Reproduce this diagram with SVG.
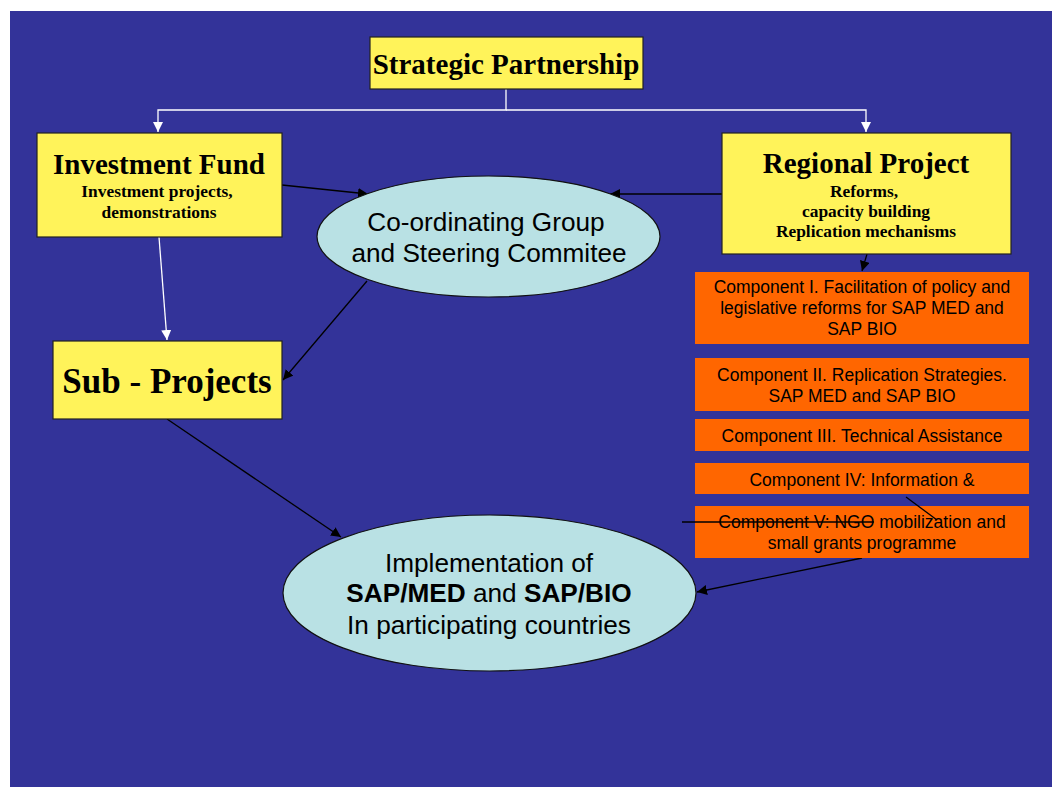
<svg xmlns="http://www.w3.org/2000/svg" width="1052" height="787" viewBox="0 0 1052 787">
<defs>
<marker id="ab" viewBox="0 0 10 10" refX="10" refY="5" markerWidth="10" markerHeight="10" markerUnits="userSpaceOnUse" orient="auto"><path d="M0,0 L10,5 L0,10 z" fill="#000"/></marker>
<marker id="aw" viewBox="0 0 10 10" refX="10" refY="5" markerWidth="10" markerHeight="10" markerUnits="userSpaceOnUse" orient="auto"><path d="M0,0 L10,5 L0,10 z" fill="#fff"/></marker>
<style>
.yb{fill:#FFF35A;stroke:#222;stroke-width:1.2}
.ob{fill:#FF6600}
.el{fill:#B9E1E4;stroke:#111;stroke-width:1.2}
.serif{font-family:"Liberation Serif","Times New Roman",serif;font-weight:bold;fill:#000;text-anchor:middle}
.sans{font-family:"Liberation Sans",Arial,sans-serif;fill:#000;text-anchor:middle}
.t1{font-size:29px}
.t2{font-size:17.4px}
.e{font-size:26.2px}
.c{font-size:17.5px}
.bl{stroke:#000;stroke-width:1.3;fill:none}
.wl{stroke:#fff;stroke-width:1.3;fill:none}
</style>
</defs>
<rect x="0" y="0" width="1052" height="787" fill="#fff"/>
<rect x="10" y="11" width="1042" height="776" fill="#333399"/>

<g id="connectors">
<polyline class="wl" points="506,89 506,110 158,110 158,132" marker-end="url(#aw)"/>
<polyline class="wl" points="506,110 866,110 866,132" marker-end="url(#aw)"/>
<line class="wl" x1="159" y1="237" x2="167" y2="340" marker-end="url(#aw)"/>
<line class="bl" x1="282" y1="185" x2="368" y2="194" marker-end="url(#ab)"/>
<line class="bl" x1="722" y1="194" x2="610" y2="194" marker-end="url(#ab)"/>
<line class="bl" x1="367" y1="281" x2="283" y2="380" marker-end="url(#ab)"/>
<line class="bl" x1="167" y1="419" x2="341" y2="537" marker-end="url(#ab)"/>
<line class="bl" x1="867" y1="254" x2="862" y2="271" marker-end="url(#ab)"/>
<line class="bl" x1="862" y1="558" x2="697" y2="592" marker-end="url(#ab)"/>
</g>

<g id="strategic-partnership">
<rect class="yb" x="370" y="37" width="273" height="52"/>
<text class="serif t1" x="506" y="74">Strategic Partnership</text>
</g>

<g id="investment-fund">
<rect class="yb" x="37" y="133" width="245" height="104"/>
<text class="serif t1" x="159" y="174">Investment Fund</text>
<text class="serif t2" x="157" y="197">Investment projects,</text>
<text class="serif t2" x="159" y="218">demonstrations</text>
</g>

<g id="regional-project">
<rect class="yb" x="722" y="133" width="289" height="121"/>
<text class="serif t1" x="866" y="173">Regional Project</text>
<text class="serif t2" x="864" y="197">Reforms,</text>
<text class="serif t2" x="866" y="217">capacity building</text>
<text class="serif t2" x="866" y="237">Replication mechanisms</text>
</g>

<g id="coordinating-group">
<ellipse class="el" cx="488.5" cy="236.5" rx="171.5" ry="60.5"/>
<text class="sans e" x="486" y="231">Co-ordinating Group</text>
<text class="sans e" x="489" y="262">and Steering Commitee</text>
</g>

<g id="sub-projects">
<rect class="yb" x="53" y="341" width="229" height="78"/>
<text class="serif" x="167" y="393" font-size="35">Sub - Projects</text>
</g>

<g id="implementation">
<ellipse class="el" cx="489.5" cy="593" rx="206.5" ry="78"/>
<text class="sans e" x="489" y="572">Implementation of</text>
<text class="sans e" x="489" y="602"><tspan font-weight="bold">SAP/MED</tspan> and <tspan font-weight="bold">SAP/BIO</tspan></text>
<text class="sans e" x="489" y="634">In participating countries</text>
</g>

<g id="component-1">
<rect class="ob" x="695" y="272" width="334" height="72"/>
<text class="sans c" x="862" y="293">Component I. Facilitation of policy and</text>
<text class="sans c" x="862" y="314">legislative reforms for SAP MED and</text>
<text class="sans c" x="862" y="335">SAP BIO</text>
</g>

<g id="component-2">
<rect class="ob" x="695" y="358" width="334" height="53"/>
<text class="sans c" x="862" y="381">Component II. Replication Strategies.</text>
<text class="sans c" x="862" y="402">SAP MED and SAP BIO</text>
</g>

<g id="component-3">
<rect class="ob" x="695" y="419" width="334" height="32"/>
<text class="sans c" x="862" y="442">Component III. Technical Assistance</text>
</g>

<g id="component-4">
<rect class="ob" x="695" y="463" width="334" height="31"/>
<text class="sans c" x="862" y="486">Component IV: Information &amp;</text>
</g>

<g id="component-5">
<rect class="ob" x="695" y="506" width="334" height="52"/>
<text class="sans c" x="862" y="528">Component V: NGO mobilization and</text>
<text class="sans c" x="862" y="549">small grants programme</text>
</g>

<g id="stray-lines">
<line class="bl" x1="682" y1="522" x2="874" y2="522"/>
<line class="bl" x1="906" y1="497" x2="937" y2="520"/>
</g>
</svg>
